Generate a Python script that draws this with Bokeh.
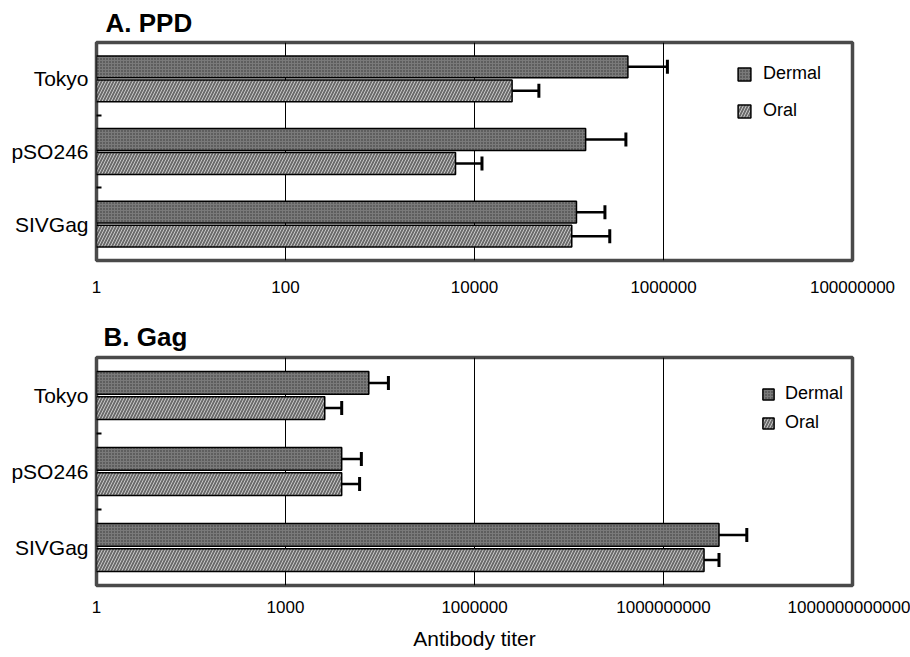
from bokeh.plotting import figure
from bokeh.models import (ColumnDataSource, FixedTicker, CustomJSTickFormatter, Whisker,
                          TeeHead, Legend, LegendItem, Range1d)
from bokeh.layouts import column
from bokeh.embed import file_html
from bokeh.resources import INLINE

groups = ["Tokyo", "pSO246", "SIVGag"]
series = ["Dermal", "Oral"]

ppd_dermal = [4.2e5, 1.5e5, 1.2e5]
ppd_dermal_err = [1.1e6, 4.0e5, 2.4e5]
ppd_oral = [2.5e4, 6.3e3, 1.07e5]
ppd_oral_err = [4.8e4, 1.2e4, 2.7e5]
ppd_ticks = [1, 100, 10000, 1000000, 100000000]

gag_dermal = [2.1e4, 7.8e3, 7.6e9]
gag_dermal_err = [4.3e4, 1.6e4, 2.1e10]
gag_oral = [4.2e3, 7.8e3, 4.4e9]
gag_oral_err = [7.8e3, 1.5e4, 7.6e9]
gag_ticks = [1, 1000, 1000000, 1000000000, 1000000000000]

FONT = "Liberation Sans"
W = 910


def make_panel(title, dermal, dermal_err, oral, oral_err, ticks, height,
               left, right, top, bottom, title_offset, title_standoff,
               legend_loc, glyph, spacing, label_standoff, tick_standoff,
               axis_label=None):
    n = len(groups)
    pos = [n - 1 - i for i in range(n)]
    src_d = ColumnDataSource(dict(y=[p + 0.165 for p in pos], v=dermal, e=dermal_err,
                                  base=[1] * n))
    src_o = ColumnDataSource(dict(y=[p - 0.165 for p in pos], v=oral, e=oral_err,
                                  base=[1] * n))
    p = figure(width=W, height=height, x_axis_type="log",
               x_range=Range1d(ticks[0], ticks[-1]), y_range=Range1d(-0.5, n - 0.5),
               output_backend="svg", toolbar_location=None,
               min_border_left=left, min_border_right=right,
               min_border_top=top, min_border_bottom=bottom)
    p.title.text = title
    p.title.text_font = FONT
    p.title.text_font_size = "26px"
    p.title.text_font_style = "bold"
    p.title.text_color = "black"
    p.title.align = "left"
    p.title.offset = title_offset
    p.title.standoff = title_standoff

    p.outline_line_color = "#4a4a4a"
    p.outline_line_width = 3.5
    p.background_fill_color = "white"

    xt = FixedTicker(ticks=ticks, minor_ticks=[])
    p.xaxis.ticker = xt
    p.xgrid.ticker = xt
    p.xaxis.formatter = CustomJSTickFormatter(code="return Math.round(tick).toFixed(0);")
    p.xgrid.grid_line_color = "black"
    p.xgrid.grid_line_width = 1
    p.ygrid.grid_line_color = None
    p.xaxis.axis_line_color = None
    p.xaxis.major_tick_out = 0
    p.xaxis.major_tick_in = 0
    p.xaxis.minor_tick_out = 0
    p.xaxis.major_label_text_font = FONT
    p.xaxis.major_label_text_font_size = "17px"
    p.xaxis.major_label_text_color = "black"
    p.xaxis.major_label_standoff = tick_standoff
    if axis_label:
        p.xaxis.axis_label = axis_label
        p.xaxis.axis_label_text_font = FONT
        p.xaxis.axis_label_text_font_size = "21px"
        p.xaxis.axis_label_text_font_style = "normal"
        p.xaxis.axis_label_text_color = "black"
        p.xaxis.axis_label_standoff = 11

    p.yaxis.ticker = FixedTicker(ticks=pos, minor_ticks=[0.5, 1.5])
    p.yaxis.major_label_overrides = {pv: g for pv, g in zip(pos, groups)}
    p.yaxis.axis_line_color = None
    p.yaxis.major_tick_out = 0
    p.yaxis.major_tick_in = 0
    p.yaxis.minor_tick_in = 5
    p.yaxis.minor_tick_out = 0
    p.yaxis.minor_tick_line_color = "black"
    p.yaxis.minor_tick_line_width = 2
    p.yaxis.major_label_text_font = FONT
    p.yaxis.major_label_text_font_size = "21px"
    p.yaxis.major_label_text_color = "black"
    p.yaxis.major_label_standoff = 8

    rd = p.hbar(y="y", left="base", right="v", height=0.3, source=src_d,
                fill_color="#7a7a7a", hatch_pattern="dot", hatch_color="#343434",
                hatch_scale=3, hatch_weight=1,
                line_color="black", line_width=1.5)
    ro = p.hbar(y="y", left="base", right="v", height=0.3, source=src_o,
                fill_color="#6a6a6a", hatch_pattern="right_diagonal_line",
                hatch_color="#c8c8c8", hatch_scale=6, hatch_weight=1,
                line_color="black", line_width=1.5)
    for src in (src_d, src_o):
        w = Whisker(base="y", lower="v", upper="e", dimension="width", source=src,
                    line_color="black", line_width=2.5,
                    lower_head=None,
                    upper_head=TeeHead(size=14, line_color="black", line_width=3))
        p.add_layout(w)

    legend = Legend(items=[LegendItem(label=series[0], renderers=[rd]),
                           LegendItem(label=series[1], renderers=[ro])],
                    location=legend_loc, margin=0, padding=0,
                    border_line_color=None, background_fill_alpha=0,
                    glyph_width=glyph, glyph_height=glyph, label_height=glyph,
                    spacing=spacing, label_standoff=label_standoff,
                    label_text_font=FONT, label_text_font_size="18px",
                    label_text_color="black")
    p.add_layout(legend)
    return p


pa = make_panel("A. PPD", ppd_dermal, ppd_dermal_err, ppd_oral, ppd_oral_err, ppd_ticks,
                height=305, left=96, right=W - 855, top=42, bottom=45,
                title_offset=9, title_standoff=9,
                legend_loc=(640, 139), glyph=16, spacing=16, label_standoff=11,
                tick_standoff=20)
pb = make_panel("B. Gag", gag_dermal, gag_dermal_err, gag_oral, gag_oral_err, gag_ticks,
                height=352, left=93, right=W - 852, top=52, bottom=72,
                title_offset=7, title_standoff=11,
                legend_loc=(665, 152), glyph=14, spacing=8, label_standoff=10,
                tick_standoff=15, axis_label="Antibody titer")

layout = column(pa, pb, spacing=0)
open("out.html", "w").write(file_html(layout, INLINE))
